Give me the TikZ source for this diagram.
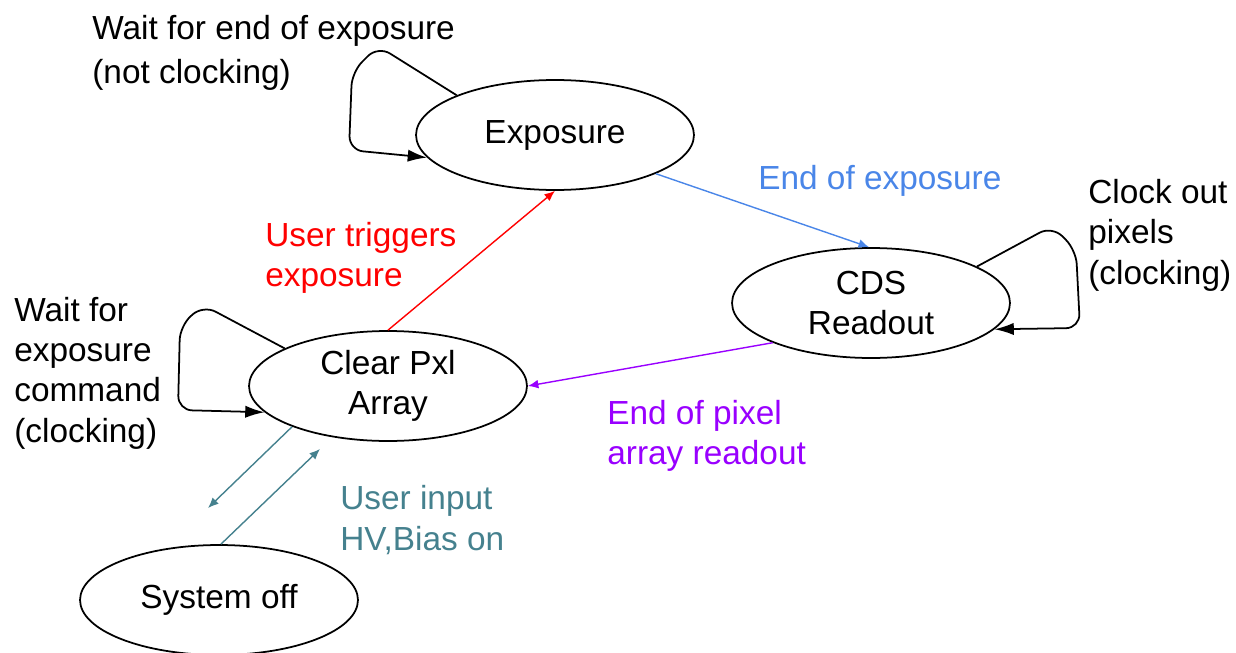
\documentclass[tikz,border=0pt]{standalone}
\usepackage{fontspec}
\setmainfont{Liberation Sans}
\usepackage{tikz}
\usepackage{xcolor}
\usetikzlibrary{shapes.geometric,arrows.meta}
\definecolor{gred}{HTML}{FF0000}
\definecolor{gblue}{HTML}{4A86E8}
\definecolor{gpurple}{HTML}{9900FF}
\definecolor{gteal}{HTML}{45818E}

\begin{document}
\begin{tikzpicture}[x=0.02cm,y=-0.02cm]%
  \tikzstyle{state}=[ellipse,draw,line width=1pt,minimum width=5.56cm,minimum height=2.2cm,inner sep=0,align=center,font=\fontsize{19}{23}\selectfont]
  \tikzstyle{lbl}=[inner sep=0,align=left,anchor=west,font=\fontsize{19}{23}\selectfont]
  \tikzstyle{trans}=[line width=0.8pt,-{Latex[length=6pt,width=5pt]}]
  \tikzstyle{selfloop}=[line width=1pt,rounded corners=8pt,-{Latex[length=11pt,width=7pt]}]
  \useasboundingbox (0,0) rectangle (1236,652);
  % states
  \node(ex)[state] at (555,135) {Exposure};
  \node(cds)[state] at (871,303) {CDS\\Readout};
  \node(clr)[state] at (388,386) {Clear Pxl\\Array};
  \node(off)[state] at (219,600) {System off};
  % labels
  \node(wexp)[lbl,font=\fontsize{19}{25}\selectfont] at (92,53) {Wait for end of exposure\\(not clocking)};
  \node(eexp)[lbl,text=gblue] at (758,181) {End of exposure};
  \node(clko)[lbl] at (1088,235) {Clock out\\pixels\\(clocking)};
  \node(utrg)[lbl,text=gred] at (265,258) {User triggers\\exposure};
  \node(wcmd)[lbl] at (14,373) {Wait for\\exposure\\command\\(clocking)};
  \node(epix)[lbl,text=gpurple] at (607,436) {End of pixel\\array readout};
  \node(uinp)[lbl,text=gteal] at (340,520) {User input\\HV,Bias on};
  % transitions
  \draw[trans,gred] (clr.north) -- (ex.south);
  \draw[trans,gblue] (ex.-21) -- (cds.92);
  \draw[trans,gpurple] (cds.202) -- (clr.east);
  \coordinate(c1) at (208,508);
  \coordinate(c2) at (320,449);
  \draw[trans,gteal] (clr.203) -- (c1);
  \draw[trans,gteal] (off.88) -- (c2);
  % self loops
  \draw[selfloop] (ex.158) -- (378,46) -- (352,72) -- (349,150) -- (ex.190);
  \draw[selfloop] (cds.19) -- (1052,226) -- (1076,250) -- (1080,328) -- (cds.-12);
  \draw[selfloop] (clr.160) -- (203,305) -- (180,326) -- (178,410) -- (clr.192);
\end{tikzpicture}
\end{document}
